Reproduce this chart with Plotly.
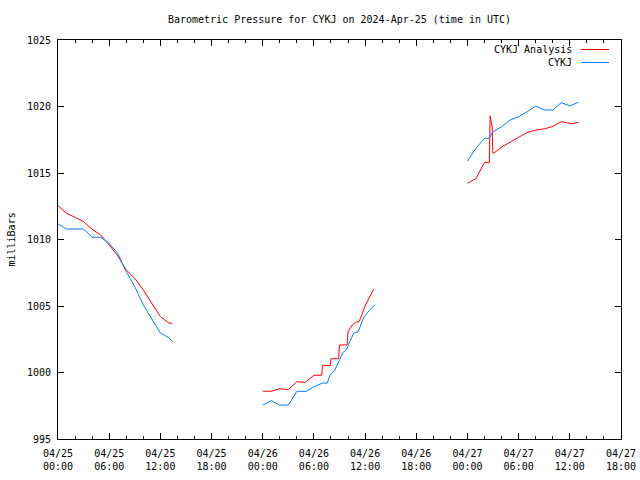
import pandas as pd
import plotly.graph_objects as go

BASE = pd.Timestamp("2024-04-25 00:00")

# ---- data: hours since 2024-04-25 00:00 UTC, pressure in mb ----
red1_h = [0, 1, 2, 3, 4, 5, 6, 7, 8, 9, 10, 11, 12, 13, 13.4]
red1_v = [1012.54, 1011.97, 1011.67, 1011.34, 1010.77, 1010.34, 1009.59, 1008.78,
          1007.71, 1007.08, 1006.2, 1005.15, 1004.2, 1003.72, 1003.7]
red2_h = [24, 25, 26, 27, 28, 29, 30, 30.92, 31, 31.92, 32, 32.9, 33, 33.9, 34,
          34.5, 35, 35.3, 36, 37]
red2_v = [998.59, 998.59, 998.78, 998.71, 999.31, 999.26, 999.79, 999.79, 1000.53,
          1000.53, 1001.04, 1001.04, 1002.07, 1002.07, 1003.07, 1003.57, 1003.8,
          1003.82, 1005.0, 1006.26]
red3_h = [48, 49, 50, 50.57, 50.66, 50.9, 50.97, 51.1, 52, 53, 54, 55, 56, 57, 58,
          59, 60, 60.4, 61]
red3_v = [1014.22, 1014.58, 1015.8, 1015.8, 1019.3, 1018.5, 1016.5, 1016.5, 1016.95,
          1017.3, 1017.7, 1018.05, 1018.22, 1018.32, 1018.5, 1018.86, 1018.73,
          1018.73, 1018.81]

blue1_h = [0, 1, 2, 3, 4, 5, 6, 7, 8, 9, 10, 11, 12, 13, 13.4]
blue1_v = [1011.17, 1010.79, 1010.79, 1010.79, 1010.17, 1010.17, 1009.71, 1008.96,
           1007.58, 1006.45, 1005.08, 1004.0, 1002.97, 1002.62, 1002.32]
blue2_h = [24, 25, 26, 27, 28, 29.1, 30, 31, 31.55, 31.9, 32.45, 32.75, 33.05, 33.4,
           33.8, 34.05, 34.65, 35.2, 35.8, 36.2, 37.1]
blue2_v = [997.55, 997.88, 997.55, 997.55, 998.58, 998.58, 998.93, 999.2, 999.2,
           999.8, 1000.19, 1000.56, 1001.0, 1001.5, 1001.7, 1002.07, 1002.95,
           1003.07, 1004.1, 1004.45, 1005.08]
blue3_h = [48, 49, 50, 50.57, 51, 52, 53, 54, 55, 56, 57, 58, 59, 60, 61]
blue3_v = [1015.9, 1016.86, 1017.61, 1017.61, 1018.11, 1018.48, 1018.98, 1019.24,
           1019.61, 1020.04, 1019.74, 1019.74, 1020.29, 1020.04, 1020.32]

series_names = ["CYKJ Analysis", "CYKJ"]
series_colors = ["#ff0000", "#0080ff"]
title_text = "Barometric Pressure for CYKJ on 2024-Apr-25 (time in UTC)"
y_title = "milliBars"


def join(segments):
    xs, ys = [], []
    for hs, vs in segments:
        if xs:
            xs.append(None)
            ys.append(None)
        xs.extend(BASE + pd.to_timedelta(h, unit="h") for h in hs)
        ys.extend(vs)
    return xs, ys


red_x, red_y = join([(red1_h, red1_v), (red2_h, red2_v), (red3_h, red3_v)])
blue_x, blue_y = join([(blue1_h, blue1_v), (blue2_h, blue2_v), (blue3_h, blue3_v)])

FONT = "DejaVu Sans Mono"

fig = go.Figure()
fig.add_trace(go.Scatter(x=red_x, y=red_y, mode="lines", name=series_names[0],
                         line=dict(color=series_colors[0], width=1),
                         connectgaps=False, showlegend=False))
fig.add_trace(go.Scatter(x=blue_x, y=blue_y, mode="lines", name=series_names[1],
                         line=dict(color=series_colors[1], width=1),
                         connectgaps=False, showlegend=False))

fig.update_layout(
    width=640, height=480,
    margin=dict(l=58, r=19, t=40, b=41, pad=0),
    paper_bgcolor="white", plot_bgcolor="white",
    font=dict(family=FONT, size=10, color="black"),
    title=dict(text=title_text, x=0.5, xref="paper", y=1 - 19 / 480,
               yref="container", xanchor="center", yanchor="middle",
               font=dict(family=FONT, size=10, color="black")),
)

fig.update_xaxes(
    type="date", automargin=False,
    range=[BASE, BASE + pd.Timedelta(hours=66)],
    tick0=BASE, dtick=6 * 3600 * 1000,
    tickformat="%m/%d<br>%H:%M",
    ticks="inside", ticklen=6, tickwidth=1, tickcolor="black",
    ticklabelstandoff=5,
    minor=dict(ticks="inside", ticklen=3, tickwidth=1, tickcolor="black",
               dtick=2 * 3600 * 1000, tick0=BASE, showgrid=False),
    showline=True, linecolor="black", linewidth=1, mirror="allticks",
    showgrid=False, zeroline=False,
    tickfont=dict(family=FONT, size=10, color="black"),
)
fig.update_yaxes(
    automargin=False,
    range=[995, 1025], tick0=995, dtick=5,
    ticks="inside", ticklen=6, tickwidth=1, tickcolor="black",
    ticklabelstandoff=4,
    showline=True, linecolor="black", linewidth=1, mirror="allticks",
    showgrid=False, zeroline=False,
    tickfont=dict(family=FONT, size=10, color="black"),
)

# y-axis title
fig.add_annotation(text=y_title, textangle=-90, xref="paper", yref="paper",
                   x=(11 - 58) / 563, y=0.5, xanchor="center", yanchor="middle",
                   showarrow=False, font=dict(family=FONT, size=10, color="black"))

# legend (gnuplot style: label, then line sample on the right)
leg_y = [(439 - 49.5) / 399, (439 - 62.5) / 399]
for name, color, ly in zip(series_names, series_colors, leg_y):
    fig.add_annotation(text=name, xref="paper", yref="paper", x=(574 - 58) / 563,
                       y=ly, xanchor="right", yanchor="middle", showarrow=False,
                       font=dict(family=FONT, size=10, color="black"))
    fig.add_shape(type="line", xref="paper", yref="paper",
                  x0=(581 - 58) / 563, x1=(609 - 58) / 563, y0=ly, y1=ly,
                  line=dict(color=color, width=1))

fig.write_html("out.html",
               config={"displayModeBar": False, "staticPlot": True},
               post_script="document.body.style.margin='0';"
                           "document.body.style.overflow='hidden';")
